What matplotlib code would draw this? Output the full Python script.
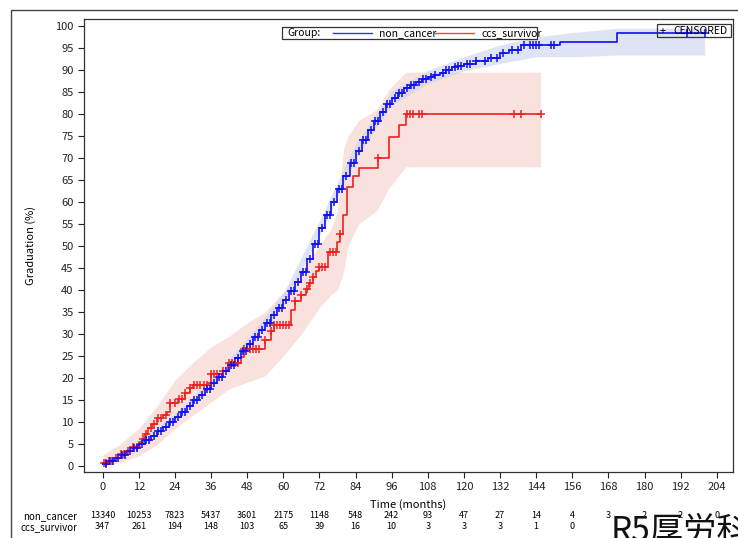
import numpy as np
import matplotlib
matplotlib.use("Agg")
import matplotlib.pyplot as plt
from matplotlib.patches import Rectangle
from matplotlib.lines import Line2D

plt.rcParams['font.family'] = ['Noto Sans CJK JP', 'DejaVu Sans']

# --- data ---
# non_cancer KM curve (step knots: months, graduation %)
blue_t = [0, 2, 4, 6, 8, 10, 12, 14, 16, 18, 20, 22, 24, 26, 28, 30, 32, 34, 36, 38,
          40, 42, 44, 46, 48, 50, 52, 54, 56, 58, 60, 62, 64, 66, 68, 70, 72, 74, 76,
          78, 80, 82, 84, 86, 88, 90, 92, 94, 96, 98, 100, 102, 104, 106, 108, 110,
          112, 114, 116, 118, 120, 124, 128, 132, 135, 139, 152, 171, 200]
blue_v = [0.5, 1.0, 1.7, 2.5, 3.3, 4.1, 5.0, 5.8, 6.8, 7.9, 8.9, 10.0, 11.1, 12.3,
          13.6, 14.9, 16.2, 17.4, 18.8, 20.1, 21.5, 23.0, 24.5, 26.2, 27.8, 29.4,
          30.9, 32.5, 34.2, 36.0, 37.8, 39.7, 41.7, 44.0, 47.0, 50.5, 54.0, 57.0,
          60.0, 63.0, 66.0, 68.8, 71.5, 74.0, 76.3, 78.5, 80.5, 82.2, 83.6, 84.8,
          85.8, 86.6, 87.3, 87.9, 88.4, 88.9, 89.4, 90.0, 90.6, 91.0, 91.4, 92.0,
          92.8, 93.8, 94.6, 95.6, 96.3, 98.4, 98.4]
blue_ci_t = [0, 12, 24, 36, 48, 60, 72, 84, 96, 108, 120, 132, 144, 156, 171, 200]
blue_lo = [0.3, 4.5, 10.4, 17.9, 26.8, 36.5, 52.3, 69.8, 82.0, 86.9, 89.8, 91.5,
           93.0, 93.0, 93.4, 93.4]
blue_hi = [0.8, 5.6, 11.8, 19.7, 28.9, 39.2, 55.7, 73.2, 85.2, 89.9, 93.0, 95.7,
           97.5, 98.5, 99.5, 99.5]
blue_cens = [1, 2.5, 3.5, 5, 6.5, 7.5, 9, 10.5, 11.5, 13, 14.5, 15.5, 17, 18.5, 19.5,
             21, 22.5, 23.5, 25, 26.5, 27.5, 29, 30.5, 31.5, 33, 34.5, 35.5, 37, 38.5,
             39.5, 41, 42.5, 43.5, 45, 46.5, 47.5, 49, 50.5, 51.5, 53, 54.5, 55.5, 57,
             58.5, 59.5, 61, 62.5, 63.5, 65, 66.5, 67.5, 69, 70.5, 71.5, 73, 74.5, 75.5,
             77, 78.5, 79.5, 81, 82.5, 83.5, 85, 86.5, 87.5, 89, 90.5, 91.5, 93, 94.5,
             95.5, 97, 98.5, 99.5, 101, 102.5, 103.5, 105, 106.5, 107.5, 109, 110.5,
             113, 114, 115, 117, 118, 119, 121, 122, 124, 127, 129, 131, 133, 136, 138,
             140, 142, 143, 144, 145, 149, 150, 194, 200]

# ccs_survivor KM curve
red_t = [0, 2, 4, 6, 8, 10, 12, 13, 14, 15, 16.5, 18, 20, 21.5, 22.5, 25, 27.5, 29,
         30, 35, 36, 40, 41.5, 46, 47, 54, 56, 57, 62.5, 64, 66, 67.5, 68.5, 70, 71,
         72, 75, 78, 79, 80, 81.3, 83.3, 85, 91.4, 95, 98.3, 100.7, 145.5]
red_v = [0.7, 1.2, 1.8, 2.6, 3.3, 4.3, 5.5, 6.2, 7.3, 8.5, 9.6, 10.8, 11.6, 12.3,
         14.3, 15.2, 16.5, 17.6, 18.3, 18.8, 20.8, 21.5, 23.3, 24.7, 26.6, 28.6, 30.6,
         32.0, 35.4, 37.5, 38.9, 40.2, 41.6, 43.0, 44.3, 45.3, 48.6, 50.8, 52.7, 57.0,
         63.4, 65.8, 67.7, 70.0, 74.8, 77.5, 80.0, 80.0]
red_ci_t = [0, 6, 12, 18, 24, 30, 36, 42, 48, 54, 60, 66, 72, 76, 78, 80, 81.5, 85,
            91, 95, 100.7, 145.5]
red_lo = [0.0, 0.8, 2.3, 4.8, 8.5, 11.5, 14.5, 17.5, 19.0, 20.5, 25.0, 30.0, 36.0,
          39.0, 40.0, 44.0, 50.0, 55.0, 58.0, 63.0, 68.0, 68.0]
red_hi = [2.5, 5.0, 8.5, 13.5, 19.5, 23.5, 27.0, 29.5, 32.5, 35.0, 39.5, 44.5, 50.0,
          54.0, 58.0, 72.0, 75.0, 78.5, 81.0, 85.5, 89.5, 89.5]
red_cens = [0.5, 1, 2, 3, 4.5, 6, 7, 8.5, 10, 11.5, 13.5, 14.5, 16, 17, 18.5, 19.5,
            21, 22.5, 24, 25.5, 26.5, 27.5, 29, 30.5, 31.5, 32.5, 33.5, 34.5, 36, 37,
            38, 40, 42, 43, 44, 45, 47, 49, 50, 51, 52, 54, 56, 57, 58, 59, 60, 61,
            62, 64, 66, 68, 69, 70, 72, 73, 74, 75.5, 76.5, 77.5, 79, 91.5, 101,
            102, 103, 105, 106, 136.5, 139, 145.5]

# numbers at risk
risk_times = [0, 12, 24, 36, 48, 60, 72, 84, 96, 108, 120, 132, 144, 156, 168, 180, 192, 204]
risk_non_cancer = [13340, 10253, 7823, 5437, 3601, 2175, 1148, 548, 242, 93, 47, 27,
                   14, 4, 3, 2, 2, 0]
risk_ccs = [347, 261, 194, 148, 103, 65, 39, 16, 10, 3, 3, 3, 1, 0]

W, H = 738, 538
BLUE = '#1010F0'
RED = '#F02020'


def fx(px):
    return px / W


def fy(py):
    return 1 - py / H


def step_at(times, vals, t):
    idx = np.searchsorted(times, t, side='right') - 1
    return np.asarray(vals)[idx]


fig = plt.figure(figsize=(W / 100, H / 100), dpi=100)
ax = fig.add_axes([fx(84), fy(472), fx(733) - fx(84), fy(19) - fy(472)])

# confidence bands
ax.fill_between(red_ci_t, red_lo, red_hi, color='#F9E1DD', lw=0, zorder=1)
ax.fill_between(blue_ci_t, blue_lo, blue_hi, color='#C9D3EE', alpha=0.6, lw=0, zorder=2)

# KM step curves
ax.plot(red_t, red_v, drawstyle='steps-post', color=RED, lw=1.2, zorder=3)
ax.plot(blue_t, blue_v, drawstyle='steps-post', color=BLUE, lw=1.2, zorder=4)

# censor marks
ax.plot(red_cens, step_at(red_t, red_v, red_cens), ls='none', marker='+', ms=6,
        mew=1.1, color=RED, zorder=5)
ax.plot(blue_cens, step_at(blue_t, blue_v, blue_cens), ls='none', marker='+', ms=6,
        mew=1.1, color=BLUE, zorder=6)

ax.set_xlim(-6.2, 209.4)
ax.set_ylim(-1.4, 101.6)
ax.set_xticks(risk_times)
ax.set_yticks(range(0, 101, 5))
ax.tick_params(direction='out', length=4, width=0.8, labelsize=8, colors='#222222')
for s in ax.spines.values():
    s.set_color('#333333')
    s.set_linewidth(0.9)
ax.set_xlabel('Time (months)', fontsize=8, labelpad=5)
ax.set_ylabel('Graduation (%)', fontsize=8, labelpad=14)

# numbers-at-risk table
for t, n in zip(risk_times, risk_non_cancer):
    ax.text(t, -0.097, str(n), transform=ax.get_xaxis_transform(), ha='center',
            va='center', fontsize=6.5)
for t, n in zip(risk_times, risk_ccs):
    ax.text(t, -0.1214, str(n), transform=ax.get_xaxis_transform(), ha='center',
            va='center', fontsize=6.5)
fig.text(fx(77), fy(516), 'non_cancer', ha='right', va='center', fontsize=7)
fig.text(fx(77), fy(527), 'ccs_survivor', ha='right', va='center', fontsize=7)

# group legend box
fig.patches.append(Rectangle((fx(281.5), fy(38.5)), fx(536.5) - fx(281.5), fy(27.5) - fy(38.5),
                             transform=fig.transFigure, fill=True, fc='white',
                             ec='#333333', lw=0.9, zorder=10))
fig.text(fx(287), fy(33), 'Group:', ha='left', va='center', fontsize=7.5, zorder=11)
fig.lines.append(Line2D([fx(333), fx(372)], [fy(33), fy(33)], transform=fig.transFigure,
                        color='#3030FF', lw=1, zorder=11))
fig.text(fx(379), fy(33), 'non_cancer', ha='left', va='center', fontsize=7.5, zorder=11)
fig.lines.append(Line2D([fx(435), fx(474)], [fy(33), fy(33)], transform=fig.transFigure,
                        color='#FF4040', lw=1, zorder=11))
fig.text(fx(481), fy(33), 'ccs_survivor', ha='left', va='center', fontsize=7.5, zorder=11)

# censored legend box
fig.patches.append(Rectangle((fx(657), fy(37)), fx(731) - fx(657), fy(24) - fy(37),
                             transform=fig.transFigure, fill=False,
                             ec='#333333', lw=0.9, zorder=10))
fig.text(fx(660), fy(31), '+', ha='left', va='center', fontsize=8, zorder=11)
fig.text(fx(673), fy(31), 'CENSORED', ha='left', va='center', fontsize=7.5, zorder=11)

# outer frame
fig.patches.append(Rectangle((fx(11), fy(560)), fx(760) - fx(11), fy(10) - fy(560),
                             transform=fig.transFigure, fill=False,
                             ec='#444444', lw=1.0))

fig.text(fx(611), fy(541), 'R5厚労科', ha='left', va='baseline', fontsize=24,
         color='#111111')

fig.savefig('out.png', dpi=100)
